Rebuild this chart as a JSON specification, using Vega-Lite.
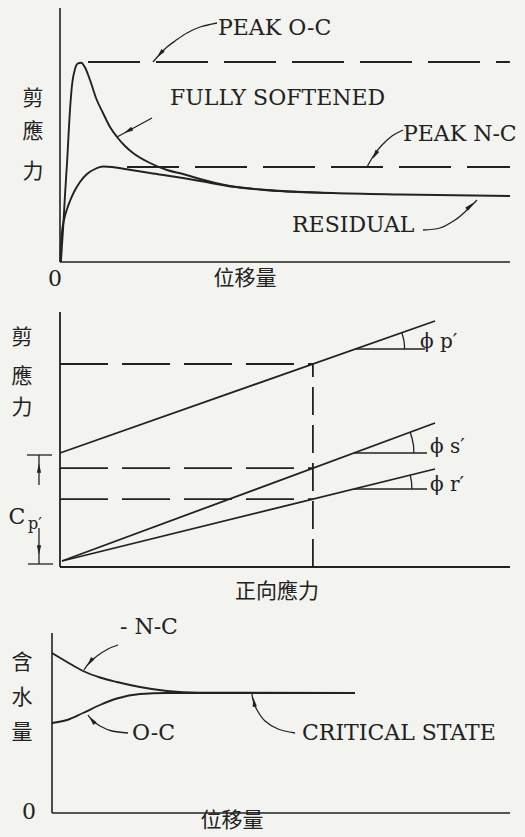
{
  "$schema": "https://vega.github.io/schema/vega-lite/v6.json",
  "background": "#f3f3ef",
  "padding": 0,
  "spacing": 0,
  "bounds": "flush",
  "config": {"view": {"stroke": null}},
  "datasets": {
    "p1_axes": [
      {"id": "ay", "x": 0, "y": 0}, {"id": "ay", "x": 0, "y": 127},
      {"id": "ax", "x": 0, "y": 0}, {"id": "ax", "x": 100, "y": 0}
    ],
    "p1_curves": [
      {"id": "OC", "x": 0.2, "y": 0}, {"id": "OC", "x": 0.44, "y": 8.5}, {"id": "OC", "x": 0.67, "y": 16}, {"id": "OC", "x": 1.11, "y": 33.5},
      {"id": "OC", "x": 1.56, "y": 49.5}, {"id": "OC", "x": 2.22, "y": 76}, {"id": "OC", "x": 2.67, "y": 88.5}, {"id": "OC", "x": 3.33, "y": 96.5},
      {"id": "OC", "x": 4.0, "y": 99.3}, {"id": "OC", "x": 4.7, "y": 99.6}, {"id": "OC", "x": 5.5, "y": 97.5}, {"id": "OC", "x": 6.67, "y": 91},
      {"id": "OC", "x": 8.0, "y": 82}, {"id": "OC", "x": 9.56, "y": 74.5}, {"id": "OC", "x": 11.11, "y": 67.5}, {"id": "OC", "x": 12.67, "y": 62.5},
      {"id": "OC", "x": 14.44, "y": 58}, {"id": "OC", "x": 16.22, "y": 54.5}, {"id": "OC", "x": 20, "y": 49.5}, {"id": "OC", "x": 23.78, "y": 46},
      {"id": "OC", "x": 27.33, "y": 44}, {"id": "OC", "x": 31.11, "y": 41.5}, {"id": "OC", "x": 37.78, "y": 38}, {"id": "OC", "x": 46, "y": 36},
      {"id": "OC", "x": 60.67, "y": 34.5}, {"id": "OC", "x": 75.56, "y": 33.75}, {"id": "OC", "x": 100, "y": 33},
      {"id": "NC", "x": 0.1, "y": 0}, {"id": "NC", "x": 0.22, "y": 8.5}, {"id": "NC", "x": 0.44, "y": 15}, {"id": "NC", "x": 0.89, "y": 21},
      {"id": "NC", "x": 1.56, "y": 26.5}, {"id": "NC", "x": 2.22, "y": 30.5}, {"id": "NC", "x": 3.11, "y": 35}, {"id": "NC", "x": 4.44, "y": 40},
      {"id": "NC", "x": 6, "y": 44}, {"id": "NC", "x": 7.78, "y": 46.5}, {"id": "NC", "x": 9.56, "y": 47.75}, {"id": "NC", "x": 11.56, "y": 47.5},
      {"id": "NC", "x": 14.44, "y": 46.5}, {"id": "NC", "x": 20, "y": 44.5}, {"id": "NC", "x": 27.33, "y": 42}, {"id": "NC", "x": 31.11, "y": 40.5},
      {"id": "NC", "x": 38.44, "y": 37.6}, {"id": "NC", "x": 46, "y": 35.9}, {"id": "NC", "x": 60.67, "y": 34.5}
    ],
    "p1_dash": [
      {"id": "pOC", "x": 6.22, "y": 100}, {"id": "pOC", "x": 100, "y": 100},
      {"id": "pNC", "x": 14.89, "y": 47.5}, {"id": "pNC", "x": 100, "y": 47.5}
    ],
    "p1_lead": [
      {"id": "L1", "x": 34.89, "y": 119.5}, {"id": "L1", "x": 31.11, "y": 117.5}, {"id": "L1", "x": 28.22, "y": 114.5}, {"id": "L1", "x": 25.56, "y": 110.5},
      {"id": "L1", "x": 23.78, "y": 107.5}, {"id": "L1", "x": 22.22, "y": 104}, {"id": "L1", "x": 20.67, "y": 100},
      {"id": "L2", "x": 20.44, "y": 72}, {"id": "L2", "x": 12.67, "y": 62.5},
      {"id": "L3", "x": 76.22, "y": 66}, {"id": "L3", "x": 73.78, "y": 63}, {"id": "L3", "x": 71.56, "y": 58.5}, {"id": "L3", "x": 69.78, "y": 53.5}, {"id": "L3", "x": 68.22, "y": 47.5},
      {"id": "L4", "x": 80.67, "y": 16}, {"id": "L4", "x": 84.44, "y": 17}, {"id": "L4", "x": 87.78, "y": 21}, {"id": "L4", "x": 90.44, "y": 26}, {"id": "L4", "x": 92.67, "y": 31}
    ],
    "p1_heads": [
      {"x": 22.22, "y": 104, "dir": 221}, {"x": 15.11, "y": 65.5, "dir": 241.5},
      {"x": 70.0, "y": 53.5, "dir": 210}, {"x": 91.11, "y": 28, "dir": 45}
    ],
    "p1_text": [
      {"kind": "lab", "label": "PEAK O-C", "x": 35.11, "y": 117},
      {"kind": "lab", "label": "FULLY SOFTENED", "x": 24.44, "y": 82},
      {"kind": "lab", "label": "PEAK N-C", "x": 76.22, "y": 64},
      {"kind": "lab", "label": "RESIDUAL", "x": 51.56, "y": 18.5},
      {"kind": "ctr", "label": "0", "x": -1.11, "y": -8.5},
      {"kind": "cjk", "label": "位移量", "x": 41.11, "y": -8.5},
      {"kind": "cjk", "label": "剪", "x": -6, "y": 81.5},
      {"kind": "cjk", "label": "應", "x": -6, "y": 65},
      {"kind": "cjk", "label": "力", "x": -6, "y": 45}
    ],
    "p2_solid": [
      {"id": "ay", "x": 0, "y": 0}, {"id": "ay", "x": 0, "y": 127.5},
      {"id": "ax", "x": 0, "y": 0}, {"id": "ax", "x": 100, "y": 0},
      {"id": "peak", "x": 0, "y": 57}, {"id": "peak", "x": 83.33, "y": 123},
      {"id": "soft", "x": 0.44, "y": 3}, {"id": "soft", "x": 83.33, "y": 72},
      {"id": "resid", "x": 0.44, "y": 3}, {"id": "resid", "x": 83.33, "y": 49}
    ],
    "p2_thin": [
      {"id": "hP", "x": 65.66, "y": 109}, {"id": "hP", "x": 81.11, "y": 109},
      {"id": "hS", "x": 65.3, "y": 57}, {"id": "hS", "x": 81.56, "y": 57},
      {"id": "hR", "x": 65.3, "y": 39}, {"id": "hR", "x": 81.56, "y": 39},
      {"id": "aP", "x": 76.58, "y": 109}, {"id": "aP", "x": 76.53, "y": 111.15}, {"id": "aP", "x": 76.42, "y": 113.25}, {"id": "aP", "x": 76.2, "y": 115.35}, {"id": "aP", "x": 75.96, "y": 117.15},
      {"id": "aS", "x": 78.64, "y": 57}, {"id": "aS", "x": 78.56, "y": 60.65}, {"id": "aS", "x": 78.24, "y": 64.25}, {"id": "aS", "x": 77.82, "y": 67.4},
      {"id": "aR", "x": 78.2, "y": 39}, {"id": "aR", "x": 78.11, "y": 42.55}, {"id": "aR", "x": 77.82, "y": 45.95},
      {"id": "tT", "x": -7.33, "y": 56}, {"id": "tT", "x": -1.78, "y": 56},
      {"id": "vT", "x": -4.67, "y": 56}, {"id": "vT", "x": -4.67, "y": 41},
      {"id": "vB", "x": -4.67, "y": 19.5}, {"id": "vB", "x": -4.67, "y": 1.5},
      {"id": "tB", "x": -7.11, "y": 1.5}, {"id": "tB", "x": -1.56, "y": 1.5}
    ],
    "p2_hdash": [
      {"id": "d1", "x": 0, "y": 101.5}, {"id": "d1", "x": 56.2, "y": 101.5},
      {"id": "d2", "x": 0, "y": 49.4}, {"id": "d2", "x": 56.2, "y": 49.4},
      {"id": "d3", "x": 0, "y": 33.9}, {"id": "d3", "x": 56.2, "y": 33.9}
    ],
    "p2_vdash": [
      {"id": "v", "x": 56.2, "y": 0}, {"id": "v", "x": 56.2, "y": 101.5}
    ],
    "p2_heads": [
      {"x": -4.67, "y": 49.5, "dir": 0}, {"x": -4.67, "y": 8.5, "dir": 180}
    ],
    "p2_text": [
      {"kind": "phi", "label": "ϕ p′", "x": 80, "y": 112.5},
      {"kind": "phi", "label": "ϕ s′", "x": 82.22, "y": 60},
      {"kind": "phi", "label": "ϕ r′", "x": 82.22, "y": 41},
      {"kind": "ctr", "label": "C", "x": -9.6, "y": 25},
      {"kind": "sub", "label": "p′", "x": -7.1, "y": 21.5},
      {"kind": "cjk", "label": "剪", "x": -8.44, "y": 114.5},
      {"kind": "cjk", "label": "應", "x": -8.44, "y": 95},
      {"kind": "cjk", "label": "力", "x": -8.44, "y": 79.5},
      {"kind": "cjk", "label": "正向應力", "x": 48.22, "y": -12.5}
    ],
    "p3_axes": [
      {"id": "ay", "x": 0, "y": 0}, {"id": "ay", "x": 0, "y": 90},
      {"id": "ax", "x": 0, "y": 0}, {"id": "ax", "x": 100, "y": 0}
    ],
    "p3_curves": [
      {"id": "NC", "x": 0, "y": 80}, {"id": "NC", "x": 3.28, "y": 75.5}, {"id": "NC", "x": 6.77, "y": 71}, {"id": "NC", "x": 10.48, "y": 67.75},
      {"id": "NC", "x": 14.19, "y": 65.5}, {"id": "NC", "x": 19.21, "y": 63}, {"id": "NC", "x": 25.11, "y": 61}, {"id": "NC", "x": 32.31, "y": 60.15},
      {"id": "NC", "x": 66.16, "y": 60},
      {"id": "OC", "x": 0, "y": 45}, {"id": "OC", "x": 3.28, "y": 46.5}, {"id": "OC", "x": 6.77, "y": 50}, {"id": "OC", "x": 10.48, "y": 54},
      {"id": "OC", "x": 14.19, "y": 57.25}, {"id": "OC", "x": 19.21, "y": 59.5}, {"id": "OC", "x": 25.11, "y": 60}, {"id": "OC", "x": 32.31, "y": 60},
      {"id": "OC", "x": 66.16, "y": 60}
    ],
    "p3_lead": [
      {"id": "L1", "x": 14.41, "y": 84}, {"id": "L1", "x": 12.23, "y": 82}, {"id": "L1", "x": 9.83, "y": 78.5}, {"id": "L1", "x": 8.08, "y": 75}, {"id": "L1", "x": 6.99, "y": 71.5},
      {"id": "L2", "x": 16.59, "y": 40}, {"id": "L2", "x": 13.1, "y": 41}, {"id": "L2", "x": 10.48, "y": 43.5}, {"id": "L2", "x": 8.73, "y": 46.5}, {"id": "L2", "x": 7.86, "y": 49},
      {"id": "L3", "x": 53.06, "y": 40}, {"id": "L3", "x": 49.34, "y": 42}, {"id": "L3", "x": 46.51, "y": 46}, {"id": "L3", "x": 44.76, "y": 51.5}, {"id": "L3", "x": 43.89, "y": 56.5}, {"id": "L3", "x": 43.67, "y": 59.5}
    ],
    "p3_heads": [
      {"x": 8.3, "y": 75.5, "dir": 215.5}, {"x": 8.73, "y": 46.5, "dir": 321}, {"x": 44.1, "y": 55.5, "dir": 350.5}
    ],
    "p3_text": [
      {"kind": "lab", "label": "- N-C", "x": 14.85, "y": 93},
      {"kind": "lab", "label": "O-C", "x": 17.47, "y": 40},
      {"kind": "lab", "label": "CRITICAL STATE", "x": 54.59, "y": 40},
      {"kind": "ctr", "label": "0", "x": -5.02, "y": 0.5},
      {"kind": "cjk", "label": "位移量", "x": 39.3, "y": -4},
      {"kind": "cjk", "label": "含", "x": -6.55, "y": 75},
      {"kind": "cjk", "label": "水", "x": -6.55, "y": 57.5},
      {"kind": "cjk", "label": "量", "x": -6.55, "y": 40}
    ]
  },
  "vconcat": [
    {
      "width": 525, "height": 290,
      "encoding": {
        "x": {"field": "x", "type": "quantitative", "scale": {"domain": [-13.333, 103.333], "nice": false, "zero": false}, "axis": null},
        "y": {"field": "y", "type": "quantitative", "scale": {"domain": [-14, 131], "nice": false, "zero": false}, "axis": null}
      },
      "layer": [
        {"data": {"name": "p1_axes"}, "mark": {"type": "line", "stroke": "#222", "strokeWidth": 1.6, "clip": false}, "encoding": {"detail": {"field": "id"}, "order": {"value": null}}},
        {"data": {"name": "p1_curves"}, "mark": {"type": "line", "stroke": "#222", "strokeWidth": 1.9, "interpolate": "monotone", "clip": false}, "encoding": {"detail": {"field": "id"}, "order": {"value": null}}},
        {"data": {"name": "p1_dash"}, "mark": {"type": "line", "stroke": "#222", "strokeWidth": 1.8, "strokeDash": [52, 16], "clip": false}, "encoding": {"detail": {"field": "id"}, "order": {"value": null}}},
        {"data": {"name": "p1_lead"}, "mark": {"type": "line", "stroke": "#222", "strokeWidth": 1.3, "interpolate": "cardinal", "clip": false}, "encoding": {"detail": {"field": "id"}, "order": {"value": null}}},
        {"data": {"name": "p1_heads"}, "mark": {"type": "point", "shape": "M0,-1L0.45,1L-0.45,1Z", "filled": true, "color": "#222", "opacity": 1, "size": 90}, "encoding": {"angle": {"field": "dir", "type": "quantitative", "scale": null}}},
        {"data": {"name": "p1_text"}, "transform": [{"filter": "datum.kind == 'lab'"}], "mark": {"type": "text", "align": "left", "baseline": "middle", "font": "DejaVu Serif", "fontSize": 22, "fill": "#222"}, "encoding": {"text": {"field": "label"}}},
        {"data": {"name": "p1_text"}, "transform": [{"filter": "datum.kind == 'ctr'"}], "mark": {"type": "text", "align": "center", "baseline": "middle", "font": "DejaVu Serif", "fontSize": 22, "fill": "#222"}, "encoding": {"text": {"field": "label"}}},
        {"data": {"name": "p1_text"}, "transform": [{"filter": "datum.kind == 'cjk'"}], "mark": {"type": "text", "align": "center", "baseline": "middle", "font": "Noto Sans CJK TC", "fontSize": 21, "fill": "#222"}, "encoding": {"text": {"field": "label"}}}
      ]
    },
    {
      "width": 525, "height": 315,
      "encoding": {
        "x": {"field": "x", "type": "quantitative", "scale": {"domain": [-13.333, 103.333], "nice": false, "zero": false}, "axis": null},
        "y": {"field": "y", "type": "quantitative", "scale": {"domain": [-19, 138.5], "nice": false, "zero": false}, "axis": null}
      },
      "layer": [
        {"data": {"name": "p2_solid"}, "mark": {"type": "line", "stroke": "#222", "strokeWidth": 1.8, "clip": false}, "encoding": {"detail": {"field": "id"}, "order": {"value": null}}},
        {"data": {"name": "p2_thin"}, "mark": {"type": "line", "stroke": "#222", "strokeWidth": 1.3, "clip": false}, "encoding": {"detail": {"field": "id"}, "order": {"value": null}}},
        {"data": {"name": "p2_hdash"}, "mark": {"type": "line", "stroke": "#222", "strokeWidth": 1.8, "strokeDash": [48, 14], "clip": false}, "encoding": {"detail": {"field": "id"}, "order": {"value": null}}},
        {"data": {"name": "p2_vdash"}, "mark": {"type": "line", "stroke": "#222", "strokeWidth": 1.8, "strokeDash": [28, 10], "clip": false}, "encoding": {"detail": {"field": "id"}, "order": {"value": null}}},
        {"data": {"name": "p2_heads"}, "mark": {"type": "point", "shape": "M0,-1L0.45,1L-0.45,1Z", "filled": true, "color": "#222", "opacity": 1, "size": 90}, "encoding": {"angle": {"field": "dir", "type": "quantitative", "scale": null}}},
        {"data": {"name": "p2_text"}, "transform": [{"filter": "datum.kind == 'phi'"}], "mark": {"type": "text", "align": "left", "baseline": "middle", "font": "DejaVu Serif", "fontSize": 20, "fill": "#222"}, "encoding": {"text": {"field": "label"}}},
        {"data": {"name": "p2_text"}, "transform": [{"filter": "datum.kind == 'ctr'"}], "mark": {"type": "text", "align": "center", "baseline": "middle", "font": "DejaVu Serif", "fontSize": 22, "fill": "#222"}, "encoding": {"text": {"field": "label"}}},
        {"data": {"name": "p2_text"}, "transform": [{"filter": "datum.kind == 'sub'"}], "mark": {"type": "text", "align": "left", "baseline": "middle", "font": "DejaVu Serif", "fontSize": 16, "fill": "#222"}, "encoding": {"text": {"field": "label"}}},
        {"data": {"name": "p2_text"}, "transform": [{"filter": "datum.kind == 'cjk'"}], "mark": {"type": "text", "align": "center", "baseline": "middle", "font": "Noto Sans CJK TC", "fontSize": 21, "fill": "#222"}, "encoding": {"text": {"field": "label"}}}
      ]
    },
    {
      "width": 525, "height": 232,
      "encoding": {
        "x": {"field": "x", "type": "quantitative", "scale": {"domain": [-11.354, 103.275], "nice": false, "zero": false}, "axis": null},
        "y": {"field": "y", "type": "quantitative", "scale": {"domain": [-12, 104], "nice": false, "zero": false}, "axis": null}
      },
      "layer": [
        {"data": {"name": "p3_axes"}, "mark": {"type": "line", "stroke": "#222", "strokeWidth": 1.6, "clip": false}, "encoding": {"detail": {"field": "id"}, "order": {"value": null}}},
        {"data": {"name": "p3_curves"}, "mark": {"type": "line", "stroke": "#222", "strokeWidth": 1.9, "interpolate": "monotone", "clip": false}, "encoding": {"detail": {"field": "id"}, "order": {"value": null}}},
        {"data": {"name": "p3_lead"}, "mark": {"type": "line", "stroke": "#222", "strokeWidth": 1.3, "interpolate": "cardinal", "clip": false}, "encoding": {"detail": {"field": "id"}, "order": {"value": null}}},
        {"data": {"name": "p3_heads"}, "mark": {"type": "point", "shape": "M0,-1L0.45,1L-0.45,1Z", "filled": true, "color": "#222", "opacity": 1, "size": 90}, "encoding": {"angle": {"field": "dir", "type": "quantitative", "scale": null}}},
        {"data": {"name": "p3_text"}, "transform": [{"filter": "datum.kind == 'lab'"}], "mark": {"type": "text", "align": "left", "baseline": "middle", "font": "DejaVu Serif", "fontSize": 22, "fill": "#222"}, "encoding": {"text": {"field": "label"}}},
        {"data": {"name": "p3_text"}, "transform": [{"filter": "datum.kind == 'ctr'"}], "mark": {"type": "text", "align": "center", "baseline": "middle", "font": "DejaVu Serif", "fontSize": 22, "fill": "#222"}, "encoding": {"text": {"field": "label"}}},
        {"data": {"name": "p3_text"}, "transform": [{"filter": "datum.kind == 'cjk'"}], "mark": {"type": "text", "align": "center", "baseline": "middle", "font": "Noto Sans CJK TC", "fontSize": 21, "fill": "#222"}, "encoding": {"text": {"field": "label"}}}
      ]
    }
  ]
}
